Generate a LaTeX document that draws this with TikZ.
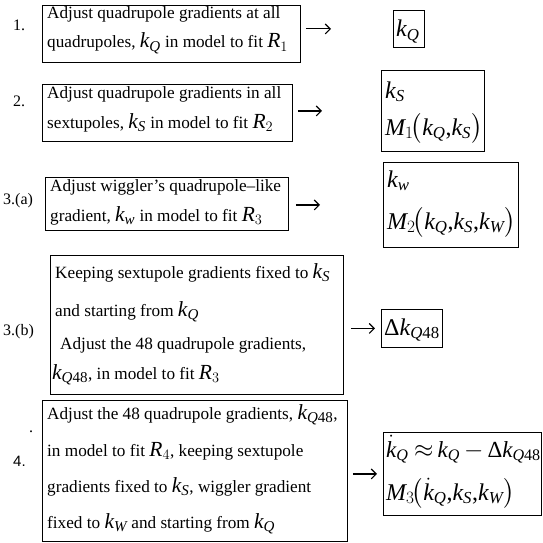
\documentclass[tikz,border=0pt]{standalone}
\usepackage{amsmath}
\usepackage{fontspec}
\setmainfont{Liberation Serif}
\newfontfamily\labsans{Liberation Sans}
\usetikzlibrary{arrows.meta}
\newcommand\iv[1]{\text{\itshape #1}}
\newcommand\mth[1]{{\fontsize{21.5}{21.5}\selectfont$#1$}}
\newcommand\kk[1]{\iv{k}_{\iv{#1}}}
\newcommand\kqf{\iv{k}_{\iv{Q}\text{48}}}
\newcommand\cm{\mathpunct{\text{,}}\mkern-3mu}
\begin{document}
\begin{tikzpicture}[x=1pt,y=-1pt,
  box/.style={draw, line width=0.9pt, inner sep=0pt, anchor=north west},
  txt/.style={anchor=base west, inner sep=0pt, font=\fontsize{17.2}{20}\selectfont},
  res/.style={anchor=base west, inner sep=0pt, font=\fontsize{24}{25}\selectfont},
  lab/.style={anchor=base west, inner sep=0pt, font=\fontsize{16}{18}\selectfont},
  arr/.style={line width=1.1pt, -{Straight Barb[length=5pt,width=10pt]}}]
\useasboundingbox (0,0) rectangle (543,543);

% labels
\node[lab] (l1) at (13,31) {1.};
\node[lab] (l2) at (13,106) {2.};
\node[lab] (l3a) at (3,204) {3.(a)};
\node[lab] (l3b) at (3,335) {3.(b)};
\node[lab,font=\labsans\fontsize{15}{16}\selectfont] (l4) at (13,466) {4.};
\node[lab] (dot) at (29,432) {.};

% step boxes
\node[box, minimum width=258, minimum height=57] (b1) at (42,5) {};
\node[txt] (t1a) at (47,19) {Adjust quadrupole gradients at all};
\node[txt] (t1b) at (47,48) {quadrupoles, \mth{\kk{Q}} in model to fit \mth{\iv{R}_1}};

\node[box, minimum width=250, minimum height=57] (b2) at (42,84) {};
\node[txt] (t2a) at (47,98) {Adjust quadrupole gradients in all};
\node[txt] (t2b) at (47,128) {sextupoles, \mth{\kk{S}} in model to fit \mth{\iv{R}_2}};

\node[box, minimum width=243, minimum height=53] (b3) at (45,177) {};
\node[txt] (t3a) at (50,191) {Adjust wiggler's quadrupole--like};
\node[txt] (t3b) at (50,221) {gradient, \mth{\kk{w}} in model to fit \mth{\iv{R}_3}};

\node[box, minimum width=293, minimum height=139] (b4) at (50,255) {};
\node[txt] (t4a) at (55,278) {Keeping sextupole gradients fixed to \mth{\kk{S}}};
\node[txt] (t4b) at (55,316) {and starting from \mth{\kk{Q}}};
\node[txt] (t4c) at (60,349) {Adjust the 48 quadrupole gradients,};
\node[txt] (t4d) at (52,379) {\mth{\kqf}, in model to fit \mth{\iv{R}_3}};

\node[box, minimum width=305, minimum height=141] (b5) at (42,400) {};
\node[txt] (t5a) at (47,419) {Adjust the 48 quadrupole gradients, \mth{\kqf},};
\node[txt] (t5b) at (47,456) {in model to fit \mth{\iv{R}_4}, keeping sextupole};
\node[txt] (t5c) at (47,492) {gradients fixed to \mth{\kk{S}}, wiggler gradient};
\node[txt] (t5d) at (47,528) {fixed to \mth{\kk{W}} and starting from \mth{\kk{Q}}};

% result boxes
\node[box, minimum width=31, minimum height=37] (r1) at (393,10) {};
\node[res] (s1) at (396,37) {$\kk{Q}$};

\node[box, minimum width=103, minimum height=81] (r2) at (381,70) {};
\node[res] (s2a) at (385,98) {$\kk{S}$};
\node[res] (s2b) at (385,135) {$\iv{M}_1\mkern-2mu\bigl(\kk{Q}\cm\kk{S}\bigr)$};

\node[box, minimum width=135, minimum height=85] (r3) at (383,162) {};
\node[res] (s3a) at (387,187) {$\kk{w}$};
\node[res] (s3b) at (387,229) {$\iv{M}_2\mkern-2mu\bigl(\kk{Q}\cm\kk{S}\cm\kk{W}\bigr)$};

\node[box, minimum width=61, minimum height=38] (r4) at (381,309) {};
\node[res] (s4) at (384,335) {$\text{Δ}\kqf$};

\node[box, minimum width=158, minimum height=83] (r5) at (383,432) {};
\node[res, font=\fontsize{23}{24}\selectfont] (s5a) at (386,457) {$\dot{\iv{k}}_{\iv{Q}}\mkern-1mu\approx\mkern-2mu\kk{Q}\mkern-1mu-\mkern-1mu\text{Δ}\kqf$};
\node[res] (s5b) at (386,500) {$\iv{M}_3\mkern-2mu\bigl(\dot{\iv{k}}_{\iv{Q}}\cm\kk{S}\cm\kk{W}\bigr)$};

% arrows
\draw[arr, shorten <=5pt, shorten >=62pt] (b1.east |- r1.west) -- (r1.west);
\draw[arr, shorten <=5pt, shorten >=59pt] (b2.east |- r2.west) -- (r2.west);
\draw[arr, shorten <=7pt, shorten >=63pt] (b3.east |- r3.west) -- (r3.west);
\draw[arr, shorten <=7pt, shorten >=6pt] (b4.east |- r4.west) -- (r4.west);
\draw[arr, shorten <=5pt, shorten >=6pt] (b5.east |- r5.west) -- (r5.west);
\end{tikzpicture}
\end{document}
